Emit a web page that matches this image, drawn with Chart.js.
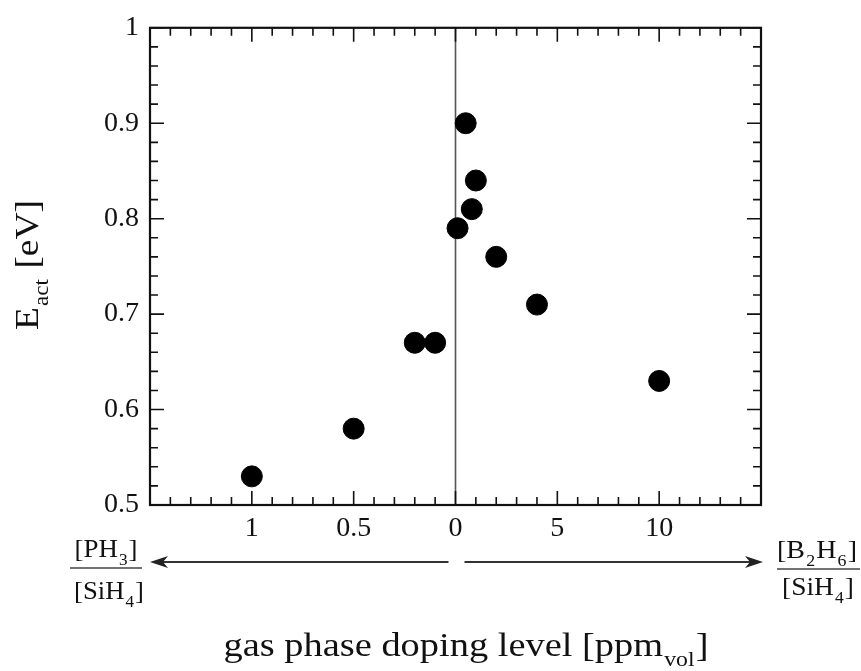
<!DOCTYPE html>
<html><head><meta charset="utf-8">
<script src="https://cdn.jsdelivr.net/npm/chart.js@4"></script>
<style>html,body{margin:0;background:#fff}</style>
</head><body>
<canvas id="grafico" width="861" height="671"></canvas>
<script>
// valores
const phDoping = [1, 0.5, 0.2, 0.1];          // [PH3]/[SiH4] ppm
const phEact   = [0.53, 0.58, 0.67, 0.67];
const bDoping  = [0.1, 0.5, 0.8, 1, 2, 4, 10]; // [B2H6]/[SiH4] ppm
const bEact    = [0.79, 0.9, 0.81, 0.84, 0.76, 0.71, 0.63];
const xTickVals   = [-2, -1, 0, 1, 2];
const xTickLabels = ['1', '0.5', '0', '5', '10'];
const yTicks = [0.5, 0.6, 0.7, 0.8, 0.9, 1];

// eixo comum: PH3 para a esquerda (0.5 ppm por divisão), B2H6 para a direita (5 ppm por divisão)
const posPH = p => -p / 0.5;
const posB = b => b / 5;
const pontos = phDoping.map((p, i) => ({x: posPH(p), y: phEact[i]}))
  .concat(bDoping.map((b, i) => ({x: posB(b), y: bEact[i]})));

const serif = '"Liberation Serif","DejaVu Serif",serif';
const ink = '#111';

function texto(ctx, partes, x, y, size, align, largura){
  // partes: [texto, 'n'|'s'] ; 's' = subscrito ; largura = largura final desejada (opcional)
  const sub = Math.round(size * 0.62);
  let w = 0;
  partes.forEach(([t, k]) => { ctx.font = (k === 's' ? sub : size) + 'px ' + serif; w += ctx.measureText(t).width + (k === 's' ? 2 : 0); });
  const sx = largura ? largura / w : 1;
  ctx.save();
  ctx.translate(align === 'center' ? x - w * sx / 2 : x, y);
  ctx.scale(sx, 1);
  ctx.textAlign = 'left'; ctx.textBaseline = 'alphabetic';
  let cx = 0;
  partes.forEach(([t, k]) => {
    ctx.font = (k === 's' ? sub : size) + 'px ' + serif;
    ctx.fillText(t, cx + (k === 's' ? 1 : 0), k === 's' ? size * 0.3 : 0);
    cx += ctx.measureText(t).width + (k === 's' ? 2 : 0);
  });
  ctx.restore();
}

function seta(ctx, x0, x1, y){
  const d = Math.sign(x1 - x0);
  ctx.beginPath(); ctx.moveTo(x0, y); ctx.lineTo(x1 - d * 12, y); ctx.stroke();
  ctx.beginPath(); ctx.moveTo(x1, y); ctx.lineTo(x1 - d * 18, y - 6); ctx.lineTo(x1 - d * 13, y); ctx.lineTo(x1 - d * 18, y + 6); ctx.closePath(); ctx.fill();
}

const linhaZero = {
  id: 'linhaZero',
  beforeDatasetsDraw(chart){
    const {ctx, chartArea: a, scales: {x}} = chart;
    const px = x.getPixelForValue(0);
    ctx.save(); ctx.strokeStyle = '#555'; ctx.lineWidth = 1.6;
    ctx.beginPath(); ctx.moveTo(px, a.top); ctx.lineTo(px, a.bottom); ctx.stroke();
    ctx.restore();
  }
};

const moldura = {
  id: 'moldura',
  afterDraw(chart){
    const {ctx, chartArea: a, scales: {x, y}} = chart;
    ctx.save();
    ctx.strokeStyle = ink; ctx.fillStyle = ink; ctx.lineWidth = 2.2;
    ctx.strokeRect(a.left, a.top, a.right - a.left, a.bottom - a.top);
    ctx.lineWidth = 1.6;
    // ticks para dentro nos quatro lados
    for (let i = -15; i <= 15; i++) {
      const px = x.getPixelForValue(i / 5), L = i % 5 === 0 ? 14 : 8;
      ctx.beginPath();
      ctx.moveTo(px, a.bottom); ctx.lineTo(px, a.bottom - L);
      ctx.moveTo(px, a.top); ctx.lineTo(px, a.top + L);
      ctx.stroke();
    }
    for (let i = 25; i <= 50; i++) {
      const py = y.getPixelForValue(i / 50), L = i % 5 === 0 ? 14 : 8;
      ctx.beginPath();
      ctx.moveTo(a.left, py); ctx.lineTo(a.left + L, py);
      ctx.moveTo(a.right, py); ctx.lineTo(a.right - L, py);
      ctx.stroke();
    }
    // setas
    ctx.strokeStyle = '#333'; ctx.fillStyle = '#222'; ctx.lineWidth = 2;
    const zero = x.getPixelForValue(0);
    seta(ctx, zero - 7, a.left, 562);
    seta(ctx, zero + 9, a.right + 2, 562);
    // frações
    ctx.fillStyle = ink;
    texto(ctx, [['[PH', 'n'], ['3', 's'], [']', 'n']], 106, 557, 25, 'center', 63);
    texto(ctx, [['[SiH', 'n'], ['4', 's'], [']', 'n']], 109, 599, 25, 'center', 70);
    texto(ctx, [['[B', 'n'], ['2', 's'], ['H', 'n'], ['6', 's'], [']', 'n']], 817, 558, 25, 'center', 80);
    texto(ctx, [['[SiH', 'n'], ['4', 's'], [']', 'n']], 818, 595, 25, 'center', 72);
    ctx.strokeStyle = '#444'; ctx.lineWidth = 1.4;
    ctx.beginPath(); ctx.moveTo(70, 568); ctx.lineTo(142, 568); ctx.moveTo(777, 569); ctx.lineTo(860, 569); ctx.stroke();
    // títulos
    texto(ctx, [['gas phase doping level [ppm', 'n'], ['vol', 's'], [']', 'n']], 466, 656, 34, 'center', 485);
    ctx.translate(38, 265); ctx.rotate(-Math.PI / 2);
    texto(ctx, [['E', 'n'], ['act', 's'], [' [eV]', 'n']], 0, 0, 34, 'center', 130);
    ctx.restore();
  }
};

const ctx = document.getElementById('grafico').getContext('2d');
const grafico = new Chart(ctx, {
  type: 'scatter',
  data: {datasets: [{data: pontos, backgroundColor: '#000', borderColor: '#000', pointRadius: 10.5, pointHoverRadius: 10.5}]},
  options: {
    responsive: false, animation: false, devicePixelRatio: 1,
    layout: {padding: {top: 20, right: 100, left: 0, bottom: 0}},
    plugins: {legend: {display: false}, tooltip: {enabled: false}},
    scales: {
      x: {
        type: 'linear', min: -3, max: 3,
        afterFit(s){ s.height = 166; },
        afterBuildTicks(s){ s.ticks = xTickVals.map(v => ({value: v})); },
        ticks: {callback: v => xTickLabels[xTickVals.indexOf(v)], font: {family: serif, size: 28}, color: ink, padding: 7, maxRotation: 0, autoSkip: false},
        grid: {display: false, drawTicks: false}, border: {display: false}
      },
      y: {
        min: 0.5, max: 1,
        afterFit(s){ s.width = 150; },
        afterBuildTicks(s){ s.ticks = yTicks.map(v => ({value: v})); },
        ticks: {callback: v => v === 1 ? '1' : v.toFixed(1), font: {family: serif, size: 28}, color: ink, padding: 11},
        grid: {display: false, drawTicks: false}, border: {display: false}
      }
    }
  },
  plugins: [linhaZero, moldura]
});
</script>
</body></html>
